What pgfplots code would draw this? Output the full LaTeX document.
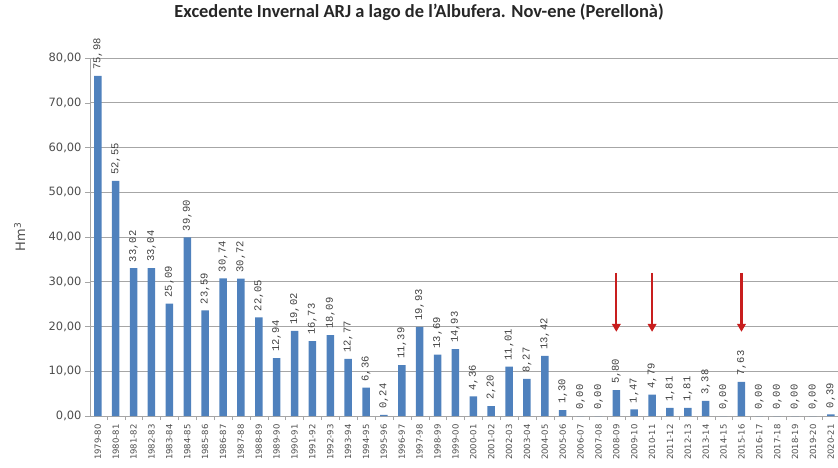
\documentclass[border=0pt]{standalone}
\usepackage{fontspec}
\setmainfont{Carlito}
\newfontfamily\lab{DejaVu Sans}
\newfontfamily\val{Liberation Mono}
\usepackage{pgfplots}
\usepackage{pgfplotstable}
\pgfplotsset{compat=1.18}
\usetikzlibrary{arrows.meta}
\definecolor{barblue}{RGB}{79,129,189}
\definecolor{arrowred}{RGB}{200,30,30}

\pgfplotstableread{
k season  val
0  1979-80 75.98
1  1980-81 52.55
2  1981-82 33.02
3  1982-83 33.04
4  1983-84 25.09
5  1984-85 39.90
6  1985-86 23.59
7  1986-87 30.74
8  1987-88 30.72
9  1988-89 22.05
10 1989-90 12.94
11 1990-91 19.02
12 1991-92 16.73
13 1992-93 18.09
14 1993-94 12.77
15 1994-95 6.36
16 1995-96 0.24
17 1996-97 11.39
18 1997-98 19.93
19 1998-99 13.69
20 1999-00 14.93
21 2000-01 4.36
22 2001-02 2.20
23 2002-03 11.01
24 2003-04 8.27
25 2004-05 13.42
26 2005-06 1.30
27 2006-07 0.00
28 2007-08 0.00
29 2008-09 5.80
30 2009-10 1.47
31 2010-11 4.79
32 2011-12 1.81
33 2012-13 1.81
34 2013-14 3.38
35 2014-15 0.00
36 2015-16 7.63
37 2016-17 0.00
38 2017-18 0.00
39 2018-19 0.00
40 2019-20 0.00
41 2020-21 0.39
}\exc

\begin{document}
\begin{tikzpicture}
\begin{axis}[
  scale only axis, width=748bp, height=358bp,
  xmin=-0.44, xmax=41.4, ymin=0, ymax=80,
  ytick={0,10,...,80},
  xtick=data,
  xticklabels from table={\exc}{season},
  x tick label style={rotate=90, anchor=east, font=\lab\fontsize{8.5}{9}\selectfont, gray!60!black},
  y tick label style={font=\lab\fontsize{11.5}{12}\selectfont, gray!60!black,
    /pgf/number format/.cd, fixed, fixed zerofill, precision=2, use comma, assume math mode=true},
  major x tick style={draw=none},
  minor xtick={-0.5,0.5,...,41.5},
  minor tick length=4bp,
  tick align=outside,
  major tick length=5bp,
  axis x line*=bottom, axis y line*=left,
  axis line style={gray!70, -},
  tick style={gray!70},
  ymajorgrids, grid style={gray!70, line width=0.7pt},
  ybar, bar width=7.5bp,
  title={\bfseries Excedente Invernal ARJ a lago de l'Albufera. Nov-ene (Perellonà)},
  title style={at={(axis description cs:0.44,1)}, anchor=center, yshift=40bp, font=\fontsize{18.5}{20}\selectfont, black!85},
  ylabel={Hm\textsuperscript{3}},
  ylabel style={at={(axis description cs:-0.094,0.5)}, anchor=center, font=\lab\fontsize{13}{14}\selectfont, gray!60!black},
  nodes near coords,
  every node near coord/.append style={rotate=90, anchor=west, inner xsep=6bp, font=\val\fontsize{10.5}{11}\selectfont, black!75,
    /pgf/number format/.cd, fixed, fixed zerofill, precision=2, use comma, assume math mode=true},
  clip=false,
]
\addplot[fill=barblue, draw=none] table[x=k, y=val] {\exc};
\draw[arrowred, line width=2.2bp, -{Triangle[length=8bp,width=8.5bp]}] (axis cs:29,32) -- (axis cs:29,18.8);
\draw[arrowred, line width=2.2bp, -{Triangle[length=8bp,width=8.5bp]}] (axis cs:31,32) -- (axis cs:31,18.8);
\draw[arrowred, line width=2.2bp, -{Triangle[length=8bp,width=8.5bp]}] (axis cs:36,32) -- (axis cs:36,18.8);
\end{axis}
\pgfresetboundingbox
\path ([xshift=-90bp,yshift=-52bp]current axis.south west) rectangle ([yshift=58bp]current axis.north east);
\end{tikzpicture}
\end{document}
